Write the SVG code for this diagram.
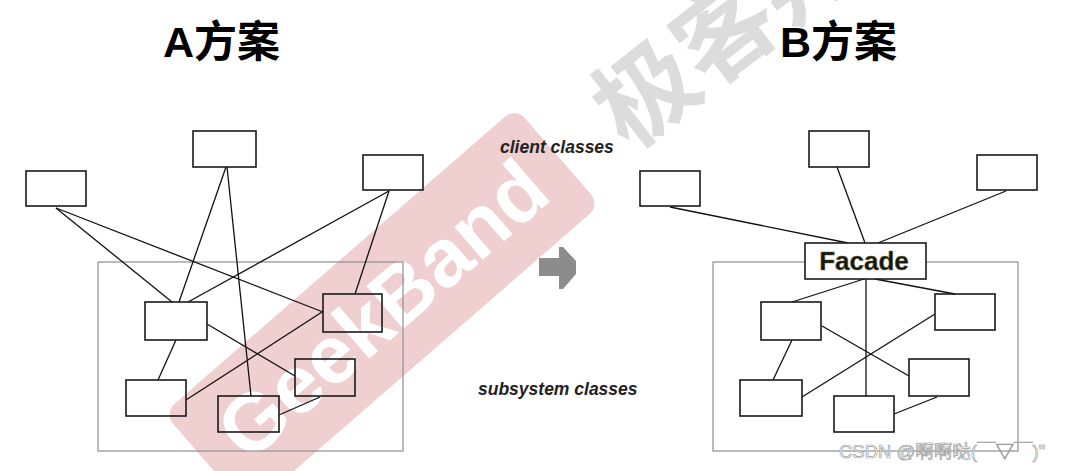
<svg xmlns="http://www.w3.org/2000/svg" width="1066" height="471" viewBox="0 0 1066 471">
<style>
.box{fill:none;stroke:#1a1a1a;stroke-width:1.6}
.cont{fill:none;stroke:#8e8e8e;stroke-width:1.2}
.conn line{stroke:#111;stroke-width:1.3}
.title{font-family:"Liberation Sans","Noto Sans CJK SC",sans-serif;font-weight:bold;font-size:43px;fill:#000}
.lbl{font-family:"Liberation Sans",Arial,sans-serif;font-weight:bold;font-style:italic;font-size:17.5px;fill:#222}
</style>
<rect width="1066" height="471" fill="#fff"/>
<!-- watermarks -->
<g id="watermark">
  <text x="0" y="0" transform="translate(629,152) rotate(-38)" font-family="Noto Sans CJK SC, sans-serif" font-weight="bold" font-size="100" fill="#dcdcdc">极客邦</text>
  <g transform="translate(382,309) rotate(-41)">
    <rect x="-233" y="-64.5" width="466" height="129" rx="14" fill="#efcfcf"/>
    <text x="0" y="29" text-anchor="middle" font-family="Liberation Sans, Arial, sans-serif" font-weight="bold" font-size="82" fill="#fff">GeekBand</text>
  </g>
</g>
<!-- titles and labels -->
<text class="title" x="163" y="57">A方案</text>
<text class="title" x="780" y="57">B方案</text>
<text class="lbl" x="500" y="153">client classes</text>
<text class="lbl" x="478" y="395">subsystem classes</text>
<polygon id="arrow" points="539,258 559,258 559,247 563,247 576,261 576,274 563,289 559,289 559,276 539,276" fill="#8c8c8c"/>
<!-- containers -->
<rect id="subsysA" class="cont" x="98" y="262" width="305" height="189"/>
<rect id="subsysB" class="cont" x="713" y="262" width="305" height="189"/>
<!-- connectors -->
<g id="connectors" class="conn">
  <line x1="56" y1="208" x2="172" y2="302"/>
  <line x1="56" y1="208" x2="323" y2="312"/>
  <line x1="226" y1="167" x2="179" y2="302"/>
  <line x1="227" y1="167" x2="251" y2="396"/>
  <line x1="389" y1="191" x2="188" y2="302"/>
  <line x1="389" y1="191" x2="355" y2="294"/>
  <line x1="176" y1="340" x2="158" y2="380"/>
  <line x1="207" y1="324" x2="295" y2="376"/>
  <line x1="322" y1="312" x2="186" y2="400"/>
  <line x1="320" y1="397" x2="279" y2="415"/>
  <line x1="670" y1="207" x2="848" y2="243"/>
  <line x1="837" y1="167" x2="865" y2="243"/>
  <line x1="1006" y1="191" x2="878" y2="243"/>
  <line x1="864" y1="279" x2="792" y2="302"/>
  <line x1="875" y1="279" x2="955" y2="294"/>
  <line x1="866" y1="279" x2="866" y2="396"/>
  <line x1="792" y1="340" x2="773" y2="380"/>
  <line x1="822" y1="326" x2="909" y2="376"/>
  <line x1="935" y1="314" x2="802" y2="397"/>
  <line x1="937" y1="397" x2="894" y2="414"/>
</g>
<!-- A nodes -->
<g id="a-client1"><rect class="box" x="26" y="171" width="60" height="35"/></g>
<g id="a-client2"><rect class="box" x="193" y="131" width="63" height="36"/></g>
<g id="a-client3"><rect class="box" x="363" y="155" width="60" height="35"/></g>
<g id="a-sub1"><rect class="box" x="145" y="302" width="62" height="38"/></g>
<g id="a-sub2"><rect class="box" x="323" y="294" width="59" height="38"/></g>
<g id="a-sub3"><rect class="box" x="126" y="380" width="60" height="36"/></g>
<g id="a-sub4"><rect class="box" x="218" y="396" width="61" height="36"/></g>
<g id="a-sub5"><rect class="box" x="295" y="359" width="60" height="37"/></g>
<!-- B nodes -->
<g id="b-client1"><rect class="box" x="640" y="171" width="60" height="35"/></g>
<g id="b-client2"><rect class="box" x="809" y="131" width="60" height="36"/></g>
<g id="b-client3"><rect class="box" x="977" y="155" width="60" height="35"/></g>
<g id="b-facade"><rect class="box" x="805" y="243" width="121" height="36" style="fill:#fff"/><text x="864" y="270" text-anchor="middle" font-family="Liberation Sans, Arial, sans-serif" font-weight="bold" font-size="26" fill="#151510" stroke="#6e6a3a" stroke-width="0.5">Facade</text></g>
<g id="b-sub1"><rect class="box" x="761" y="302" width="60" height="38"/></g>
<g id="b-sub2"><rect class="box" x="935" y="294" width="60" height="36"/></g>
<g id="b-sub3"><rect class="box" x="740" y="380" width="62" height="36"/></g>
<g id="b-sub4"><rect class="box" x="834" y="396" width="60" height="36"/></g>
<g id="b-sub5"><rect class="box" x="909" y="359" width="60" height="37"/></g>
<text x="839" y="458" font-family="Liberation Sans, 'Noto Sans CJK SC', sans-serif" font-size="18.5" fill="#fff" stroke="#9c9c9c" stroke-width="0.7">CSDN @啊啊哒(￣▽￣)"</text>
</svg>
